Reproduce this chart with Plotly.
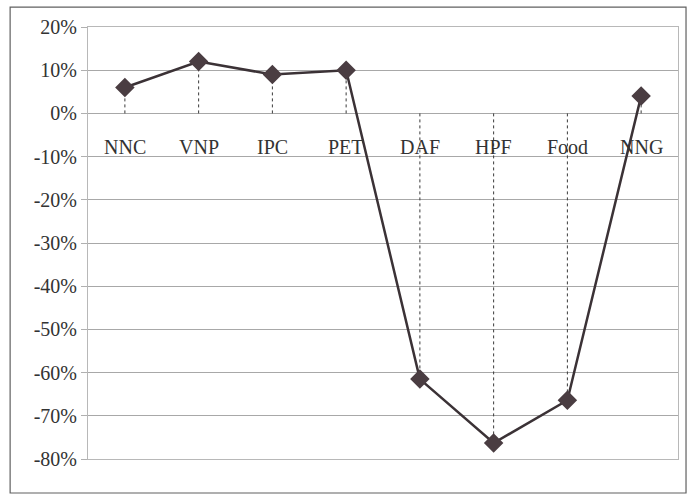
import plotly.graph_objects as go

categories = ["NNC", "VNP", "IPC", "PET", "DAF", "HPF", "Food", "NNG"]
values = [0.06, 0.12, 0.09, 0.10, -0.615, -0.763, -0.664, 0.04]
tick_vals = [0.2, 0.1, 0.0, -0.1, -0.2, -0.3, -0.4, -0.5, -0.6, -0.7, -0.8]
tick_text = ["20%", "10%", "0%", "-10%", "-20%", "-30%", "-40%", "-50%", "-60%", "-70%", "-80%"]

FONT = "Liberation Serif, Times New Roman, serif"
fig = go.Figure()

# drop lines
for c, v in zip(categories, values):
    fig.add_trace(go.Scatter(x=[c, c], y=[0, v], mode="lines",
                             line=dict(color="#3a3a3a", width=1, dash="3px,3px"),
                             hoverinfo="skip", showlegend=False))

fig.add_trace(go.Scatter(x=categories, y=values, mode="lines+markers",
                         line=dict(color="#3b3236", width=2.5),
                         marker=dict(symbol="diamond", size=15, color="#4a3d42"),
                         showlegend=False))

for c in categories:
    fig.add_annotation(x=c, y=-0.10, text=c, showarrow=False, yanchor="bottom",
                       yshift=-3, font=dict(family=FONT, size=20, color="#333333"))

fig.add_shape(type="rect", xref="paper", yref="paper", x0=-0.132, x1=1.0136,
              y0=-0.0787, y1=1.046, line=dict(color="#606060", width=1.2), layer="above")

fig.update_layout(
    template="none",
    width=690, height=496,
    margin=dict(l=88, r=12, t=27, b=37, autoexpand=False),
    paper_bgcolor="white", plot_bgcolor="white",
    font=dict(family=FONT, size=20, color="#333333"),
    xaxis=dict(type="category", showticklabels=False, showgrid=False, zeroline=False,
               showline=True, linecolor="#b8b8b8", mirror=True, ticks="",
               automargin=False, range=[-0.5, len(categories) - 0.5]),
    yaxis=dict(range=[-0.8, 0.2], tickvals=tick_vals, ticktext=tick_text,
               showgrid=True, gridcolor="#a8a8a8", gridwidth=1, zeroline=False,
               showline=True, linecolor="#b8b8b8", mirror=True, automargin=False,
               ticks="outside", ticklen=6, tickcolor="#b0b0b0"),
)

fig.write_html("out.html", config={"displayModeBar": False},
               post_script="document.body.style.margin='0px';document.body.style.overflow='hidden';")
